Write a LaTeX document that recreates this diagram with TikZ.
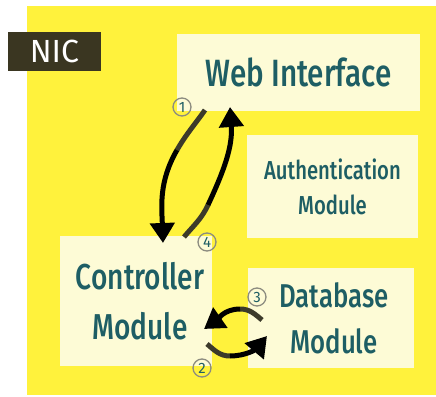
\documentclass[tikz,border=0pt]{standalone}
\usepackage{fontspec}
\setmainfont{Fira Sans Medium}[FakeStretch=0.78]
\newfontfamily\nicfont{Fira Sans}
\usetikzlibrary{arrows.meta}
\definecolor{bgyellow}{HTML}{FFF23C}
\definecolor{boxcream}{HTML}{FDFBD6}
\definecolor{tealtext}{HTML}{1E5E64}
\definecolor{nicdark}{HTML}{3A3621}
\definecolor{tailgray}{HTML}{3C3A2A}
\definecolor{circgray}{HTML}{8C8C80}
\tikzset{
  module/.style={fill=boxcream, text=tealtext, align=center, inner sep=0pt},
  flowtail/.style={draw=tailgray, line width=5pt},
  flowhead/.style={draw=black, line width=5pt, -{Triangle[length=20pt,width=24pt]}},
  stepnum/.style={circle, draw=circgray, line width=1.3pt, text=tealtext,
    inner sep=0pt, minimum size=18pt, font=\nicfont\fontsize{15}{15}\selectfont}
}
\begin{document}
\begin{tikzpicture}[x=1pt,y=-1pt]
  \useasboundingbox (0,0) rectangle (436,396);
  \fill[white] (0,0) rectangle (436,396);
  \fill[bgyellow] (27,6) rectangle (436,395);

  % modules
  \node[module, minimum width=243pt, minimum height=77pt,
        font=\fontsize{38}{38}\selectfont] (web) at (298.5,72.5) {Web Interface};
  \node[module, minimum width=171pt, minimum height=103pt,
        font=\fontsize{26}{35}\selectfont] (auth) at (332.5,186.5) {Authentication\\Module};
  \node[module, minimum width=152pt, minimum height=130pt,
        font=\fontsize{36}{50}\selectfont] (ctrl) at (136,301) {\hspace*{8pt}Controller\\\hspace*{8pt}Module};
  \node[module, minimum width=166pt, minimum height=100pt,
        font=\fontsize{33}{46}\selectfont] (db) at (331,318) {\hspace*{6pt}Database\\\hspace*{6pt}Module};

  % label tag
  \node[fill=nicdark, text=white, minimum width=93pt, minimum height=39pt,
        font=\nicfont\fontsize{32}{32}\selectfont, inner sep=0pt] (nic) at (54.5,51.5) {NIC};

  % anchor points of the flows
  \coordinate (p1s) at (205,110);
  \coordinate (p1m) at (177,150);
  \coordinate (p1e) at (163,243);
  \coordinate (p4s) at (184,237);
  \coordinate (p4m) at (208,205);
  \coordinate (p4e) at (230,107);
  \coordinate (p3s) at (262,320);
  \coordinate (p3m) at (240,309);
  \coordinate (p3e) at (204,329);
  \coordinate (p2s) at (207,344);
  \coordinate (p2m) at (230,356);
  \coordinate (p2e) at (267,336);

  % 1: web -> controller
  \draw[flowtail] (p1s) to[out=-125,in=60] (p1m);
  \draw[flowhead] (p1m) to[out=-120,in=92] (p1e);
  % 4: controller -> web
  \draw[flowtail] (p4s) to[out=50,in=-115] (p4m);
  \draw[flowhead] (p4m) to[out=65,in=-86] (p4e);
  % 3: database -> controller
  \draw[flowtail] (p3s) to[out=140,in=0] (p3m);
  \draw[flowhead] (p3m) to[out=180,in=35] (p3e);
  % 2: controller -> database
  \draw[flowtail] (p2s) to[out=-40,in=180] (p2m);
  \draw[flowhead] (p2m) to[out=0,in=-130] (p2e);

  % step numbers
  \node[stepnum] (n1) at (182,107) {1};
  \node[stepnum] (n4) at (207,242) {4};
  \node[stepnum] (n3) at (257,297) {3};
  \node[stepnum] (n2) at (202,368) {2};
\end{tikzpicture}
\end{document}
